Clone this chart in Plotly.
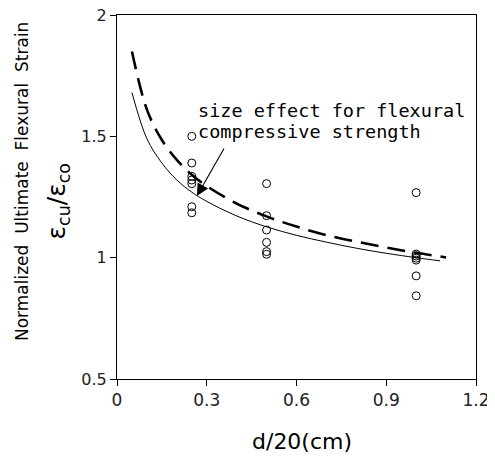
import plotly.graph_objects as go

# Measured data (d/20 in cm vs normalized ultimate flexural strain)
x_025 = [0.25] * 7
y_025 = [1.50, 1.39, 1.335, 1.32, 1.305, 1.21, 1.185]
x_050 = [0.50] * 6
y_050 = [1.305, 1.173, 1.114, 1.063, 1.025, 1.014]
x_100 = [1.00] * 7
y_100 = [1.268, 1.015, 1.007, 0.998, 0.99, 0.925, 0.843]

# Solid curve
solid_x = [0.05, 0.10, 0.15, 0.20, 0.25, 0.30, 0.40, 0.50, 0.60, 0.70, 0.80, 0.90, 1.00, 1.08]
solid_y = [1.68, 1.49, 1.39, 1.32, 1.27, 1.232, 1.172, 1.127, 1.092, 1.064, 1.039, 1.018, 1.0, 0.987]

# Dashed curve
dash_x = [0.05, 0.10, 0.15, 0.20, 0.25, 0.30, 0.40, 0.50, 0.60, 0.70, 0.80, 0.90, 1.00, 1.10]
dash_y = [1.85, 1.61, 1.485, 1.403, 1.342, 1.295, 1.223, 1.17, 1.128, 1.093, 1.066, 1.042, 1.02, 1.001]

x_ticks = [0, 0.3, 0.6, 0.9, 1.2]
x_tick_labels = ["0", "0.3", "0.6", "0.9", "1.2"]
y_ticks = [0.5, 1, 1.5, 2]
y_tick_labels = ["0.5", "1", "1.5", "2"]

pts_x = x_025 + x_050 + x_100
pts_y = y_025 + y_050 + y_100

fig = go.Figure()
fig.add_trace(go.Scatter(x=solid_x, y=solid_y, mode="lines",
                         line=dict(color="black", width=1, shape="spline"),
                         showlegend=False, hoverinfo="skip"))
fig.add_trace(go.Scatter(x=dash_x, y=dash_y, mode="lines",
                         line=dict(color="black", width=2.6, shape="spline", dash="18px,9px"),
                         showlegend=False, hoverinfo="skip"))
fig.add_trace(go.Scatter(x=pts_x, y=pts_y, mode="markers",
                         marker=dict(symbol="circle-open", size=8, color="black",
                                     line=dict(width=1, color="black")),
                         showlegend=False))

font_main = "DejaVu Sans"

# page body has an 8px margin, so the figure is 8px smaller than the window
fig.update_layout(
    width=487, height=451,
    margin=dict(l=109, r=19, t=7, b=80, autoexpand=False),
    paper_bgcolor="white", plot_bgcolor="white",
    font=dict(family=font_main, color="black"),
    xaxis=dict(range=[0, 1.2], tickvals=x_ticks, ticktext=x_tick_labels, automargin=False,
               ticklabeloverflow="allow",
               ticks="outside", ticklen=6, tickcolor="black", showgrid=False,
               zeroline=False, showline=True, linecolor="black", linewidth=1, mirror=True,
               tickfont=dict(size=17, color="#222", family=font_main)),
    yaxis=dict(range=[0.5, 2], tickvals=y_ticks, ticktext=y_tick_labels, automargin=False,
               ticklabeloverflow="allow",
               ticks="outside", ticklen=6, tickcolor="black", showgrid=False,
               zeroline=False, showline=True, linecolor="black", linewidth=1, mirror=True,
               tickfont=dict(size=16, color="#222", family=font_main)),
)

# Annotation text (two lines) with arrow
ann_font = dict(family="DejaVu Sans Mono", size=18.5, color="black")
fig.add_annotation(x=0.264, y=1.6045, xref="x", yref="y",
                   text="size effect for flexural",
                   showarrow=False, xanchor="left", yanchor="middle", font=ann_font)
fig.add_annotation(x=0.264, y=1.518, xref="x", yref="y",
                   text="compressive strength",
                   showarrow=False, xanchor="left", yanchor="middle", font=ann_font)
fig.add_annotation(x=0.267, y=1.254, xref="x", yref="y", ax=28, ay=-49,
                   text="", showarrow=True, arrowhead=2, arrowsize=2.2, arrowwidth=1.1,
                   arrowcolor="black")

# Axis titles
fig.add_annotation(x=-0.2646, y=0.541, xref="paper", yref="paper",
                   xanchor="center", yanchor="middle",
                   text="Normalized  Ultimate  Flexural  Strain", textangle=-90,
                   showarrow=False, font=dict(size=17, family=font_main))
fig.add_annotation(x=-0.164, y=0.488, xref="paper", yref="paper",
                   xanchor="center", yanchor="middle",
                   text="ε<sub>cu</sub>/ε<sub>co</sub>", textangle=-90,
                   showarrow=False, font=dict(size=25, family=font_main))
fig.add_annotation(x=0.515, y=-0.173, xref="paper", yref="paper",
                   xanchor="center", yanchor="middle",
                   text="d/20(cm)", showarrow=False,
                   font=dict(size=22, family=font_main))

fig.write_html("out.html")
